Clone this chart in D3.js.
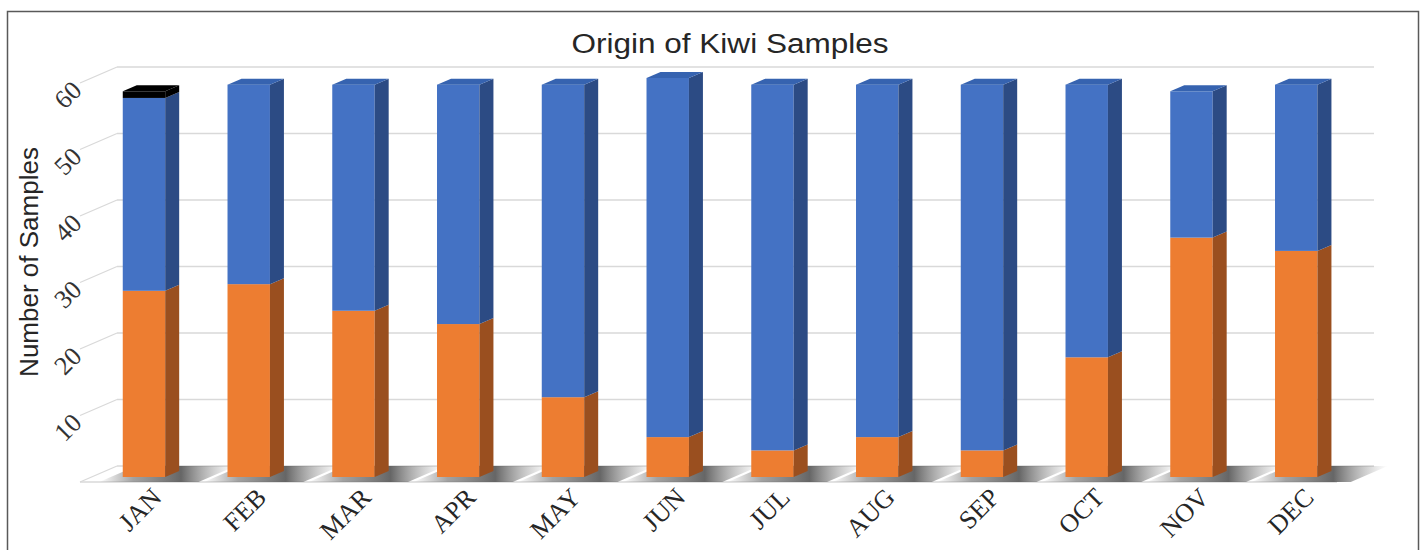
<!DOCTYPE html>
<html>
<head>
<meta charset="utf-8">
<script src="https://cdn.jsdelivr.net/npm/d3@7"></script>
<style>
    body { margin: 0; background: #fff; }
    svg { display: block; }
</style>
</head>
<body>
<svg id="chart" width="1422" height="550"></svg>
<script>
// data
var months = ["JAN", "FEB", "MAR", "APR", "MAY", "JUN", "JUL", "AUG", "SEP", "OCT", "NOV", "DEC"];
var seriesNames = ["Series 1", "Series 2", "Series 3"];
var series1 = [28, 29, 25, 23, 12, 6, 4, 6, 4, 18, 36, 34];
var series2 = [29, 30, 34, 36, 47, 54, 55, 53, 55, 41, 22, 25];
var series3 = [1, 0, 0, 0, 0, 0, 0, 0, 0, 0, 0, 0];
var yTicks = [10, 20, 30, 40, 50, 60];

var colors = {
    front: ["#ed7d31", "#4472c4", "#000000"],
    side:  ["#9a4f1f", "#2c4b84", "#000000"],
    top:   ["#b85f25", "#3663b0", "#000000"]
};

var svg = d3.select("#chart");

// frame
svg.append("rect")
    .attr("x", 7.5).attr("y", 11.5)
    .attr("width", 1411).attr("height", 560)
    .attr("fill", "#fff")
    .attr("stroke", "#595959")
    .attr("stroke-width", 1.5);

// 3d params: floor front edge and depth offsets
var floorLeft = 80, floorRight = 1337;
var wallDx = 37, wallDy = -16;     // floor front -> back wall
var barDx = 11.6, barDy = -5;      // floor front -> bar front face
var depthDx = 14, depthDy = -6;    // bar depth

var x = d3.scaleBand()
    .domain(months)
    .range([floorLeft, floorRight])
    .paddingInner(0.595)
    .paddingOuter(0.2975);

var y = d3.scaleLinear()
    .domain([0, 60])
    .range([482, 83]);

var g = svg.append("g");

// back wall gridlines + diagonal side lines
var grid = g.append("g");
grid.selectAll("line.back")
    .data([0].concat(yTicks))
    .enter()
    .append("line")
    .attr("x1", floorLeft + wallDx)
    .attr("x2", floorRight + wallDx)
    .attr("y1", function(d) { return y(d) + wallDy; })
    .attr("y2", function(d) { return y(d) + wallDy; })
    .style("stroke", "#d9d9d9")
    .style("stroke-width", 1.3);
grid.selectAll("line.diag")
    .data([0].concat(yTicks))
    .enter()
    .append("line")
    .attr("x1", floorLeft)
    .attr("x2", floorLeft + wallDx)
    .attr("y1", function(d) { return y(d); })
    .attr("y2", function(d) { return y(d) + wallDy; })
    .style("stroke", "#d9d9d9")
    .style("stroke-width", 1.3);

// floor front edge
grid.append("line")
    .attr("x1", floorLeft).attr("x2", floorRight)
    .attr("y1", y(0)).attr("y2", y(0))
    .style("stroke", "#d9d9d9")
    .style("stroke-width", 1.3);

// floor shadows
var defs = svg.append("defs");
var grad = defs.append("linearGradient")
    .attr("id", "shadow")
    .attr("x1", "0").attr("x2", "1").attr("y1", "0").attr("y2", "0");
grad.append("stop").attr("offset", "0%").attr("stop-color", "#808080").attr("stop-opacity", 0);
grad.append("stop").attr("offset", "25%").attr("stop-color", "#7a7a7a").attr("stop-opacity", 0.7);
grad.append("stop").attr("offset", "60%").attr("stop-color", "#555").attr("stop-opacity", 0.9);
grad.append("stop").attr("offset", "100%").attr("stop-color", "#999").attr("stop-opacity", 0);

g.append("g").selectAll("polygon")
    .data(months)
    .enter()
    .append("polygon")
    .attr("points", function(d) {
        var x0 = x(d) - 12, x1 = x(d) + x.bandwidth() + 45;
        var yf = y(0), yb = y(0) + wallDy;
        return [[x0, yf], [x1, yf], [x1 + wallDx, yb], [x0 + wallDx, yb]].join(" ");
    })
    .attr("fill", "url(#shadow)");

// stacked data
var table = months.map(function(m, i) {
    return { month: m, s0: series1[i], s1: series2[i], s2: series3[i] };
});
var stack = d3.stack().keys(["s0", "s1", "s2"]);
var layers = stack(table);

var bars = g.append("g");
months.forEach(function(m, i) {
    var bx = x(m) + barDx, bw = x.bandwidth();
    var yb = function(v) { return y(v) + barDy; };
    var topVal = 0;
    layers.forEach(function(layer, k) {
        var v0 = layer[i][0], v1 = layer[i][1];
        if (v1 - v0 <= 0) return;
        topVal = v1;
        bars.append("rect")
            .attr("x", bx)
            .attr("y", yb(v1))
            .attr("width", bw)
            .attr("height", yb(v0) - yb(v1))
            .attr("fill", colors.front[k]);
        bars.append("polygon")
            .attr("points", [[bx + bw, yb(v1)], [bx + bw + depthDx, yb(v1) + depthDy],
                [bx + bw + depthDx, yb(v0) + depthDy], [bx + bw, yb(v0)]].join(" "))
            .attr("fill", colors.side[k]);
    });
    // top face takes colour of the top segment
    var topK = series3[i] > 0 ? 2 : 1;
    bars.append("polygon")
        .attr("points", [[bx, yb(topVal)], [bx + depthDx, yb(topVal) + depthDy],
            [bx + bw + depthDx, yb(topVal) + depthDy], [bx + bw, yb(topVal)]].join(" "))
        .attr("fill", colors.top[topK]);
});

// y tick labels
g.append("g").selectAll("text")
    .data(yTicks)
    .enter()
    .append("text")
    .text(function(d) { return d; })
    .attr("transform", function(d) {
        return "translate(" + (floorLeft - 6) + "," + (y(d) + 18) + ") rotate(-45)";
    })
    .attr("text-anchor", "middle")
    .attr("font-family", "'Liberation Serif', 'Times New Roman', serif")
    .attr("font-size", 26)
    .attr("fill", "#333");

// x labels
g.append("g").selectAll("text")
    .data(months)
    .enter()
    .append("text")
    .text(function(d) { return d; })
    .attr("transform", function(d) {
        var cx = x(d) + barDx + x.bandwidth() / 2;
        return "translate(" + (cx + 19) + "," + 499 + ") rotate(-45)";
    })
    .attr("text-anchor", "end")
    .attr("font-family", "'Liberation Serif', 'Times New Roman', serif")
    .attr("font-size", 26)
    .attr("fill", "#262626");

// title
svg.append("text")
    .text("Origin of Kiwi Samples")
    .attr("x", 730)
    .attr("y", 53)
    .attr("text-anchor", "middle")
    .attr("textLength", 317)
    .attr("lengthAdjust", "spacingAndGlyphs")
    .attr("font-family", "'Liberation Sans', Arial, sans-serif")
    .attr("font-size", 27)
    .attr("fill", "#262626");

// y axis title
svg.append("text")
    .text("Number of Samples")
    .attr("transform", "translate(38,262) rotate(-90)")
    .attr("text-anchor", "middle")
    .attr("font-family", "'Liberation Sans', Arial, sans-serif")
    .attr("font-size", 26)
    .attr("fill", "#262626");
</script>
</body>
</html>
